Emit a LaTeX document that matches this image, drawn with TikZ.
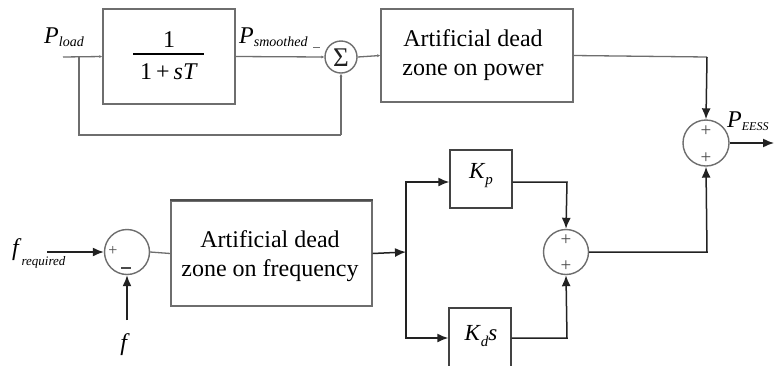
\documentclass[tikz,border=0pt]{standalone}
\usepackage{fontspec}
\setmainfont{Liberation Serif}
\usetikzlibrary{arrows.meta}
\definecolor{gl}{HTML}{6E6E6E}
\definecolor{dl}{HTML}{222222}
\definecolor{pg}{HTML}{4A4A4A}
\begin{document}
\begin{tikzpicture}[x=1pt,y=-1pt,
  blk/.style={draw=gl,line width=1.4pt,inner sep=0pt},
  blkd/.style={draw=dl!85,line width=1.4pt,inner sep=0pt},
  sumc/.style={draw=gl,circle,line width=1.4pt,inner sep=0pt},
  gline/.style={draw=gl,line width=1.3pt},
  dline/.style={draw=dl,line width=1.5pt},
  sarr/.style={-{Latex[length=3pt,width=3pt]}},
  barr/.style={-{Latex[length=11pt,width=9pt]}},
  pls/.style={inner sep=0pt,font=\fontsize{19}{19}\selectfont,text=pg},
  lbl/.style={inner sep=0pt,font=\fontsize{24}{24}\selectfont},
  txt/.style={align=center,font=\fontsize{24}{29}\selectfont}
]
\clip (0,0) rectangle (774,365);
\fill[white] (0,0) rectangle (774,365);
% top row
\coordinate (in) at (63,57);
\coordinate (br) at (79,57);
\node[blk,minimum width=132pt,minimum height=95pt] (lpf) at (169,56.5) {};
\node[txt] (num) at (169,40) {1};
\draw[line width=1.3pt] (133,54) -- (204,54);
\node[txt] (den) at (169,72) {1\,+\,\textit{sT}};
\node[sumc,minimum size=32pt] (sig) at (341,57) {};
\node[inner sep=0pt,font=\fontsize{27}{27}\selectfont,text=dl] (sigt) at (341,57.5) {Σ};
\node[blk,minimum width=192pt,minimum height=93pt] (dzp) at (477,55.5) {};
\node[txt] (dzpt) at (473,55) {Artificial dead\\zone on power};
\node[sumc,minimum size=46pt] (s1) at (706,143) {};
\node[pls] (s1a) at (706,131) {+};
\node[pls] (s1b) at (706,158) {+};
\coordinate (out) at (774,143);
\coordinate (c1) at (707,57);
\coordinate (fb1) at (79,135);
\coordinate (fb2) at (341,135);
\draw[gline,sarr] (in) -- (lpf.west);
\draw[gline] (br) -- (fb1) -- (fb2);
\draw[gline,sarr] (fb2) -- (sig.south);
\draw[gline,sarr] (lpf.east) -- (sig.west);
\draw[gline,sarr] (sig.east) -- (dzp.west);
\draw[gline] (dzp.east) -- (c1);
\draw[dline,barr] (c1) -- (s1.north);
\draw[dline,barr] (s1.east) -- (out);
\node[lbl,anchor=base west] (pl) at (44,43) {\textit{P}\raisebox{-3pt}{\fontsize{14}{14}\selectfont\textit{load}}};
\node[lbl,anchor=base west] (ps) at (239,43) {\textit{P}\raisebox{-3pt}{\fontsize{14}{14}\selectfont\textit{smoothed}}};
\draw[gl,line width=1.6pt] (313,47.5) -- (320,47.5);
\node[lbl,anchor=base west] (pe) at (727,127) {\textit{P}\raisebox{-3pt}{\fontsize{12}{12}\selectfont\textit{EESS}}};
% bottom row
\node[sumc,minimum size=45pt] (fs) at (127,252) {};
\node[pls,font=\fontsize{16}{16}\selectfont] (fsp) at (113,251) {+};
\draw[pg,line width=2.2pt] (121,268) -- (131,268);
\node[blk,minimum width=201pt,minimum height=105pt] (dzf) at (271.5,253.5) {};
\draw[dl!80,line width=2.2pt] (dzf.north west) -- (dzf.north east);
\node[txt] (dzft) at (270,256) {Artificial dead\\zone on frequency};
\coordinate (fbr) at (406,252);
\node[blkd,minimum width=62pt,minimum height=58pt] (kp) at (481,179) {};
\node[font=\fontsize{23}{23}\selectfont] (kpt) at (481,176) {\textit{K}\raisebox{-6pt}{\fontsize{15}{15}\selectfont\textit{p}}};
\node[blkd,minimum width=62pt,minimum height=60pt] (kd) at (480,338) {};
\node[font=\fontsize{23}{23}\selectfont] (kdt) at (481,336) {\textit{K}\raisebox{-6pt}{\fontsize{15}{15}\selectfont\textit{d}}\textit{s}};
\node[sumc,minimum size=45pt] (s2) at (566,252) {};
\node[pls] (s2a) at (566,240) {+};
\node[pls] (s2b) at (566,266) {+};
\coordinate (fr) at (47,252);
\coordinate (fi) at (127,320);
\coordinate (kp1) at (406,182);
\coordinate (kd1) at (406,338);
\coordinate (kpo) at (567,182);
\coordinate (kdo) at (567,338);
\coordinate (s2o) at (707,252);
\draw[dline,barr] (fr) -- (fs.west);
\draw[dline,barr] (fi) -- (fs.south);
\draw[gline] (fs.east) -- (dzf.west);
\draw[dline,barr] (dzf.east) -- (fbr);
\draw[dline,barr] (fbr) -- (kp1) -- (kp.west |- kp1);
\draw[dline,barr] (fbr) -- (kd1) -- (kd.west);
\draw[dline,barr] (kp.east |- kpo) -- (kpo) -- (s2.north);
\draw[dline,barr] (kd.east) -- (kdo) -- (s2.south);
\draw[dline,barr] (s2.east) -- (s2o) -- (s1.south);
\node[lbl,anchor=base west] (fq) at (12,255) {\textit{f}\raisebox{-10pt}{\fontsize{13}{13}\selectfont\textit{required}}};
\node[lbl,anchor=base] (fl) at (125,350) {\textit{f}};
\end{tikzpicture}
\end{document}
